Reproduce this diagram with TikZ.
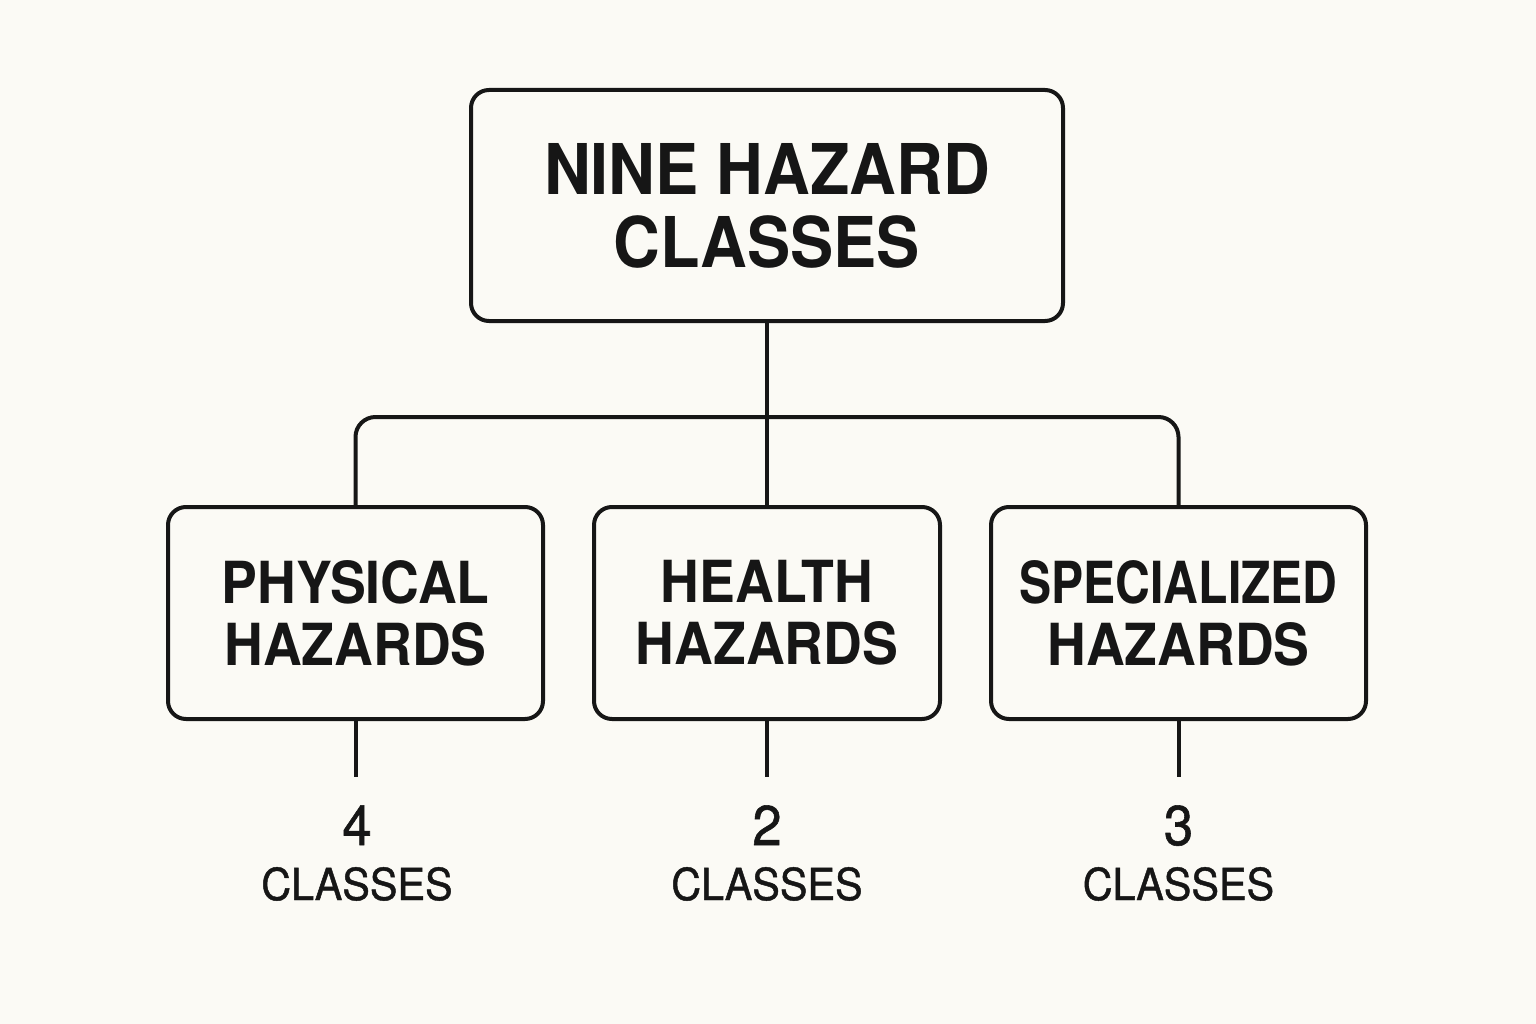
\documentclass[tikz,border=0pt]{standalone}
\usepackage{fontspec}
\setmainfont{TeX Gyre Heros}
\newfontfamily\headfont[FakeStretch=0.925]{TeX Gyre Heros}
\newfontfamily\narrowfont[FakeStretch=0.83]{TeX Gyre Heros}
\newfontfamily\medfont[FakeBold=1.0,FakeStretch=0.94]{TeX Gyre Heros}
\definecolor{bg}{HTML}{FBFAF5}
\definecolor{ink}{HTML}{161616}
\begin{document}
\begin{tikzpicture}[x=1pt,y=-1pt,
  box/.style={draw=ink,line width=4pt,rounded corners=18pt,fill=bg,inner sep=0pt,align=center,text=ink},
  conn/.style={draw=ink,line width=4pt},
  num/.style={text=ink,font=\medfont\fontsize{56}{60}\selectfont,inner sep=0pt,anchor=base},
  cls/.style={text=ink,font=\medfont\fontsize{44}{48}\selectfont,inner sep=0pt,anchor=base}]
\useasboundingbox[fill=bg] (0,0) rectangle (1536,1024);
\node[box,minimum width=592pt,minimum height=231pt,font=\headfont\bfseries\fontsize{70}{73}\selectfont] (top) at (767,205.5) {NINE HAZARD\\CLASSES};
\node[box,minimum width=375pt,minimum height=212pt,font=\headfont\bfseries\fontsize{58}{62}\selectfont] (phys) at (355.5,613) {PHYSICAL\\HAZARDS};
\node[box,minimum width=346pt,minimum height=212pt,font=\headfont\bfseries\fontsize{58}{62}\selectfont] (health) at (767,613) {HEALTH\\HAZARDS};
\node[box,minimum width=375pt,minimum height=212pt,font=\headfont\bfseries\fontsize{58}{62}\selectfont] (spec) at (1178.5,613) {{\narrowfont\bfseries SPECIALIZED}\\HAZARDS};
\coordinate (j) at (767,417);
\draw[conn] (top.south) -- (j);
\draw[conn,rounded corners=20pt] (phys.north) -- (phys.north |- j) -- (spec.north |- j) -- (spec.north);
\draw[conn] (j) -- (health.north);
\coordinate (e1) at (355.5,777);
\coordinate (e2) at (767,777);
\coordinate (e3) at (1178.5,777);
\draw[conn] (phys.south) -- (e1);
\draw[conn] (health.south) -- (e2);
\draw[conn] (spec.south) -- (e3);
\node[num] (n1) at (357,845) {4};
\node[num] (n2) at (767,845) {2};
\node[num] (n3) at (1178.5,845) {3};
\node[cls] (c1) at (357,900) {CLASSES};
\node[cls] (c2) at (767,900) {CLASSES};
\node[cls] (c3) at (1178.5,900) {CLASSES};
\end{tikzpicture}
\end{document}
